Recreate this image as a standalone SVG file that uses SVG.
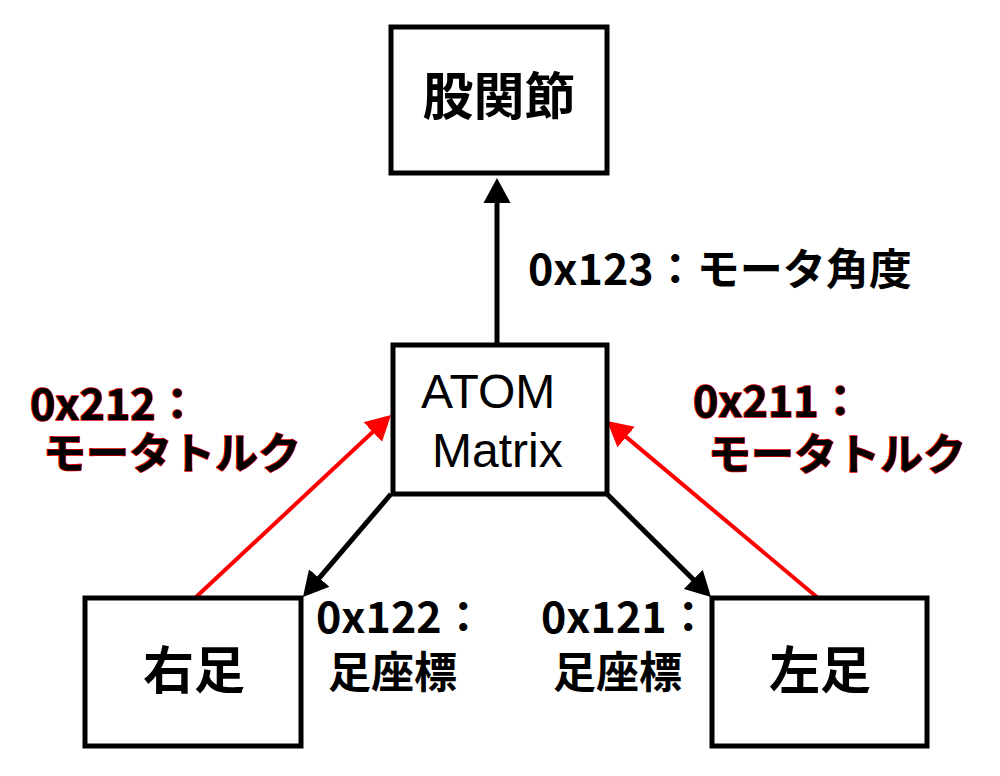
<svg xmlns="http://www.w3.org/2000/svg" width="1000" height="776" viewBox="0 0 1000 776">
<style>
.box{fill:#fff;stroke:#000;stroke-width:5}
.jp{font-family:"Noto Sans CJK JP","Noto Sans",sans-serif;font-weight:700;fill:#000}
.node{font-size:51px;text-anchor:middle}
.lbl{font-size:43px}
.red{stroke:#e00000;stroke-width:1.6;paint-order:stroke;stroke-linejoin:round}
.en{font-family:"Liberation Sans",Arial,sans-serif;font-size:48px;fill:#000}
.blk{stroke:#000;stroke-width:5;fill:none}
.rd{stroke:#f00;stroke-width:4;fill:none}
</style>
<defs>
<marker id="ab" markerUnits="userSpaceOnUse" markerWidth="26" markerHeight="28" refX="15" refY="13.5" orient="auto" viewBox="0 0 26 27">
<path d="M0,0 L25,13.5 L0,27 z" fill="#000"/>
</marker>
<marker id="ar" markerUnits="userSpaceOnUse" markerWidth="26" markerHeight="28" refX="15" refY="13.5" orient="auto" viewBox="0 0 26 27">
<path d="M0,0 L25,13.5 L0,27 z" fill="#f00"/>
</marker>
</defs>
<rect width="1000" height="776" fill="#fff"/>
<g id="connectors">
<line class="blk" x1="497" y1="345" x2="497" y2="188" marker-end="url(#ab)"/>
<line class="blk" x1="391" y1="494" x2="309.5" y2="589.4" marker-end="url(#ab)"/>
<line class="blk" x1="607" y1="494" x2="703.9" y2="590" marker-end="url(#ab)"/>
<line class="rd" x1="195" y1="598" x2="383.7" y2="421.8" marker-end="url(#ar)"/>
<line class="rd" x1="818" y1="598" x2="614.7" y2="427.4" marker-end="url(#ar)"/>
</g>
<g id="hip">
<rect class="box" x="391" y="27" width="216" height="146"/>
<text class="jp node" x="499" y="115">股関節</text>
</g>
<g id="atom">
<rect class="box" x="393" y="345" width="214" height="149"/>
<text class="en" x="421" y="408">ATOM</text>
<text class="en" x="432" y="467">Matrix</text>
</g>
<g id="rightfoot">
<rect class="box" x="85" y="598" width="216" height="148"/>
<text class="jp node" x="194" y="689">右足</text>
</g>
<g id="leftfoot">
<rect class="box" x="712" y="598" width="215" height="148"/>
<text class="jp node" x="820" y="689">左足</text>
</g>
<g id="labels">
<text class="jp lbl" x="528" y="285">0x123：モータ角度</text>
<text class="jp lbl" x="316" y="633">0x122：</text>
<text class="jp lbl" x="328" y="688">足座標</text>
<text class="jp lbl" x="541" y="633">0x121：</text>
<text class="jp lbl" x="553" y="688">足座標</text>
<text class="jp lbl red" x="30" y="420">0x212：</text>
<text class="jp lbl red" x="43" y="469">モータトルク</text>
<text class="jp lbl red" x="693" y="417">0x211：</text>
<text class="jp lbl red" x="708" y="470">モータトルク</text>
</g>
</svg>
